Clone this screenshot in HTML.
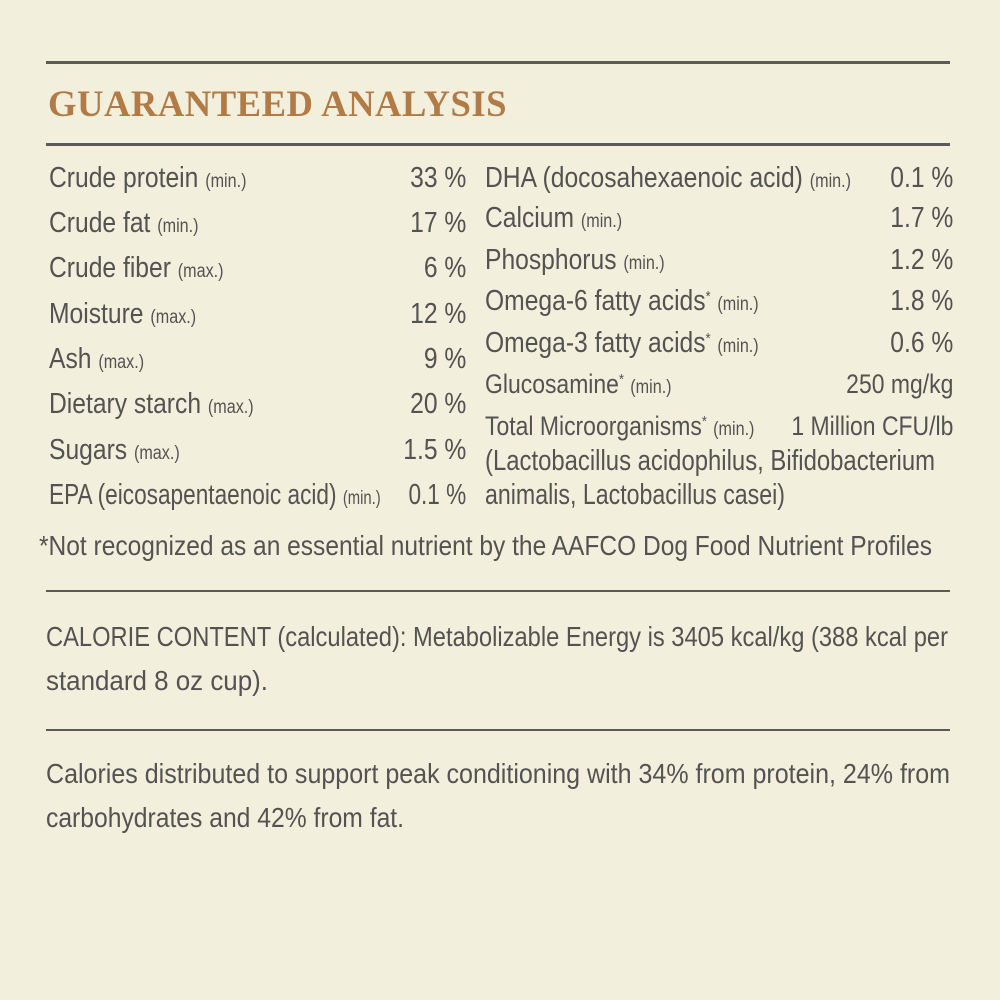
<!DOCTYPE html>
<html><head><meta charset="utf-8"><style>
html,body{margin:0;padding:0}
body{width:1000px;height:1000px;background:#f2efdd;position:relative;overflow:hidden;font-family:"Liberation Sans",sans-serif;color:#545352}
.hr{position:absolute;left:46px;width:904px;background:#5a5a58}
.t{position:absolute;white-space:nowrap;font-size:29px;line-height:1;transform-origin:0 0}
.r{position:absolute;display:flex;justify-content:space-between;white-space:nowrap;font-size:29px;line-height:1;transform:scaleX(0.85);transform-origin:0 0}
small{font-size:19px}
sup{font-size:15px;vertical-align:9px;line-height:0}
h1{position:absolute;left:48px;top:86px;margin:0;font-family:"Liberation Serif",serif;font-weight:bold;font-size:37px;color:#b27b46;letter-spacing:0.5px;line-height:1;white-space:nowrap;transform-origin:0 0}
</style></head><body>
<div class="hr" style="top:61px;height:3px"></div>
<h1 id="title">GUARANTEED ANALYSIS</h1>
<div class="hr" style="top:143px;height:3px"></div>

<div class="r" style="left:49px;width:491px;top:164px"><span>Crude protein <small>(min.)</small></span><span>33 %</span></div>
<div class="r" style="left:49px;width:491px;top:209px"><span>Crude fat <small>(min.)</small></span><span>17 %</span></div>
<div class="r" style="left:49px;width:491px;top:254px"><span>Crude fiber <small>(max.)</small></span><span>6 %</span></div>
<div class="r" style="left:49px;width:491px;top:300px"><span>Moisture <small>(max.)</small></span><span>12 %</span></div>
<div class="r" style="left:49px;width:491px;top:345px"><span>Ash <small>(max.)</small></span><span>9 %</span></div>
<div class="r" style="left:49px;width:491px;top:390px"><span>Dietary starch <small>(max.)</small></span><span>20 %</span></div>
<div class="r" style="left:49px;width:491px;top:436px"><span>Sugars <small>(max.)</small></span><span>1.5 %</span></div>
<div class="r" style="left:49px;width:535px;top:481px;transform:scaleX(0.78)"><span>EPA (eicosapentaenoic acid) <small>(min.)</small></span><span>0.1 %</span></div>

<div class="r" style="left:485px;width:551px;top:164px"><span>DHA (docosahexaenoic acid) <small>(min.)</small></span><span>0.1 %</span></div>
<div class="r" style="left:485px;width:551px;top:204px"><span>Calcium <small>(min.)</small></span><span>1.7 %</span></div>
<div class="r" style="left:485px;width:551px;top:246px"><span>Phosphorus <small>(min.)</small></span><span>1.2 %</span></div>
<div class="r" style="left:485px;width:551px;top:287px"><span>Omega-6 fatty acids<sup>*</sup> <small>(min.)</small></span><span>1.8 %</span></div>
<div class="r" style="left:485px;width:551px;top:329px"><span>Omega-3 fatty acids<sup>*</sup> <small>(min.)</small></span><span>0.6 %</span></div>
<div class="r" style="left:485px;width:551px;top:371px;font-size:27px"><span>Glucosamine<sup>*</sup> <small>(min.)</small></span><span>250 mg/kg</span></div>
<div class="r" style="left:485px;width:551px;top:413px;font-size:27px"><span>Total Microorganisms<sup>*</sup> <small>(min.)</small></span><span>1 Million CFU/lb</span></div>
<div class="t fit" style="left:485px;top:447px" title="450">(Lactobacillus acidophilus, Bifidobacterium</div>
<div class="t fit" style="left:485px;top:481px" title="300">animalis, Lactobacillus casei)</div>

<div class="t fit" style="left:39px;top:532px;font-size:28px" title="893">*Not recognized as an essential nutrient by the AAFCO Dog Food Nutrient Profiles</div>
<div class="hr" style="top:590px;height:2px"></div>
<div class="t fit" style="left:46px;top:623px;font-size:28px" title="902">CALORIE CONTENT (calculated): Metabolizable Energy is 3405 kcal/kg (388 kcal per</div>
<div class="t fit" style="left:46px;top:667px;font-size:28px" title="222">standard 8 oz cup).</div>
<div class="hr" style="top:729px;height:2px"></div>
<div class="t fit" style="left:46px;top:760px;font-size:28px" title="904">Calories distributed to support peak conditioning with 34% from protein, 24% from</div>
<div class="t fit" style="left:46px;top:804px;font-size:28px" title="358">carbohydrates and 42% from fat.</div>
<script>
document.querySelectorAll('.fit').forEach(function(e){
  var w=e.getBoundingClientRect().width, t=parseFloat(e.title);
  if(w>0) e.style.transform='scaleX('+(t/w)+')';
  e.removeAttribute('title');
});
var h=document.getElementById('title'),hw=h.getBoundingClientRect().width;
h.style.transform='scaleX('+(459/hw)+')';
</script>
</body></html>
